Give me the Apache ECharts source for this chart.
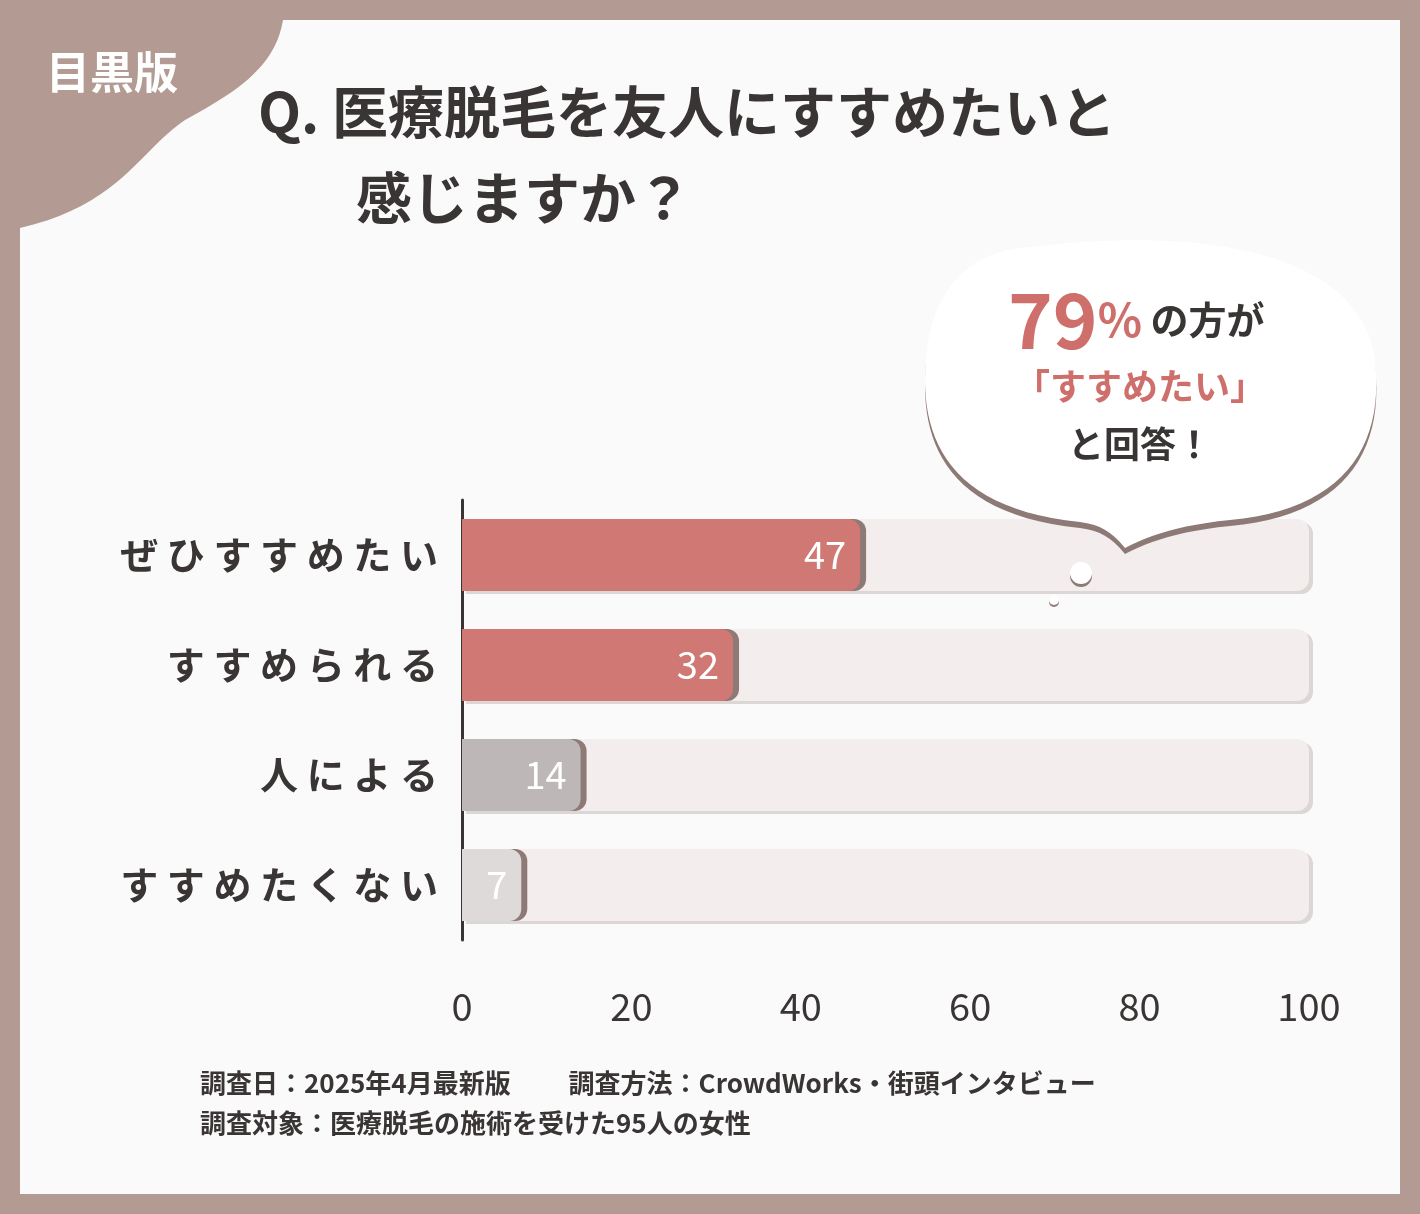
<!DOCTYPE html>
<html><head><meta charset="utf-8">
<script src="https://cdn.jsdelivr.net/npm/echarts@6/dist/echarts.min.js"></script>
<style>html,body{margin:0;padding:0;background:#b39a92}#c{width:1420px;height:1214px}</style>
</head><body><div id="c"></div>
<script>
const categories = ['ぜひすすめたい','すすめられる','人による','すすめたくない'];
const values = [47, 32, 14, 7];
const barColors = ['#d07873','#d07873','#bdb8b7','#dedada'];
const xTicks = [0,20,40,60,80,100];
const F = '"Noto Sans CJK JP","Noto Sans",sans-serif';
function bez(p0,p1,p2,p3,n){const o=[];for(let i=0;i<=n;i++){const t=i/n,u=1-t;o.push([u*u*u*p0[0]+3*u*u*t*p1[0]+3*u*t*t*p2[0]+t*t*t*p3[0],u*u*u*p0[1]+3*u*u*t*p1[1]+3*u*t*t*p2[1]+t*t*t*p3[1]]);}return o;}
const blob = [[20,20],[283,20]].concat(bez([283,20],[275,70],[230,95],[185,120],20),bez([185,120],[140,150],[120,205],[20,228],20));
const bubble = [].concat(
  bez([1020,248],[1200,225],[1360,250],[1375,360],24),
  bez([1375,360],[1385,450],[1340,510],[1230,520],24),
  bez([1230,520],[1180,525],[1150,535],[1125,548],12),
  bez([1125,548],[1110,530],[1100,525],[1080,522],8),
  bez([1080,522],[960,510],[925,450],[925,380],24),
  bez([925,380],[925,300],[960,255],[1020,248],24));
const chart = echarts.init(document.getElementById('c'));
chart.setOption({
  backgroundColor:'#b39a92',
  graphic:[
    {type:'rect',shape:{x:20,y:20,width:1380,height:1174},style:{fill:'#fbfafa'},z:-10},
    {type:'polygon',shape:{points:blob},style:{fill:'#b39a92'},z:-5},
    {type:'text',left:46,top:50,style:{text:'目黒版',fill:'#fff',font:'bold 44px '+F}},
    {type:'text',left:258,top:84,style:{text:'Q. 医療脱毛を友人にすすめたいと',fill:'#3a3535',font:'bold 56px '+F}},
    {type:'text',left:356,top:170,style:{text:'感じますか？',fill:'#3a3535',font:'bold 56px '+F}},
    {type:'polygon',shape:{points:bubble},style:{fill:'#fff',shadowBlur:0,shadowColor:'#8d7a76',shadowOffsetX:0,shadowOffsetY:6},z:5},
    {type:'circle',shape:{cx:1081,cy:573,r:11},style:{fill:'#fff',shadowColor:'#8d7a76',shadowOffsetY:3},z:5},
    {type:'circle',shape:{cx:1054,cy:600,r:5},style:{fill:'#fff',shadowColor:'#8d7a76',shadowOffsetY:2},z:5},
    {type:'text',left:1008,top:282,z:6,style:{rich:{a:{fill:'#cf6f6c',font:'bold 76px '+F},b:{fill:'#cf6f6c',font:'bold 46px '+F},c:{fill:'#3a3535',font:'bold 38px '+F}},text:'{a|79}{b|%}{c| の方が}'}},
    {type:'text',left:1014,top:368,z:6,style:{text:'「すすめたい」',fill:'#cf6f6c',font:'bold 36px '+F}},
    {type:'text',left:1068,top:426,z:6,style:{text:'と回答！',fill:'#3a3535',font:'bold 36px '+F}},
    {type:'text',left:200,top:1070,style:{text:'調査日：2025年4月最新版　　 調査方法：CrowdWorks・街頭インタビュー',fill:'#3a3535',font:'bold 26px '+F}},
    {type:'text',left:200,top:1110,style:{text:'調査対象：医療脱毛の施術を受けた95人の女性',fill:'#3a3535',font:'bold 26px '+F}}
  ],
  grid:{left:462,right:111,top:500,bottom:274},
  xAxis:{type:'value',min:0,max:100,interval:20,splitLine:{show:false},axisLine:{show:false},axisTick:{show:false},
    axisLabel:{fontSize:38,color:'#3a3535',fontFamily:F,margin:48,formatter:v=>xTicks.includes(v)?String(v):''}},
  yAxis:{type:'category',inverse:true,data:categories,axisLine:{show:true,lineStyle:{color:'#3a3535',width:3}},axisTick:{show:false},
    axisLabel:{fontSize:38,color:'#3a3535',fontFamily:F,fontWeight:'bold',margin:24,
      formatter:s=>s.split('').join(' ')}},
  series:[
    {type:'bar',data:categories.map(()=>100),barWidth:72,barGap:'-100%',silent:true,
      itemStyle:{color:'#f3eded',borderRadius:[0,12,12,0],shadowColor:'#dcd6d5',shadowOffsetX:4,shadowOffsetY:3},z:1},
    {type:'bar',data:values.map((v,i)=>({value:v,itemStyle:{color:barColors[i]}})),barWidth:72,
      itemStyle:{borderRadius:[0,12,12,0],shadowColor:'#8d7a76',shadowOffsetX:6},z:3,
      label:{show:true,position:'insideRight',color:'#fff',fontSize:38,fontFamily:F,distance:14}}
  ]
});
</script></body></html>
